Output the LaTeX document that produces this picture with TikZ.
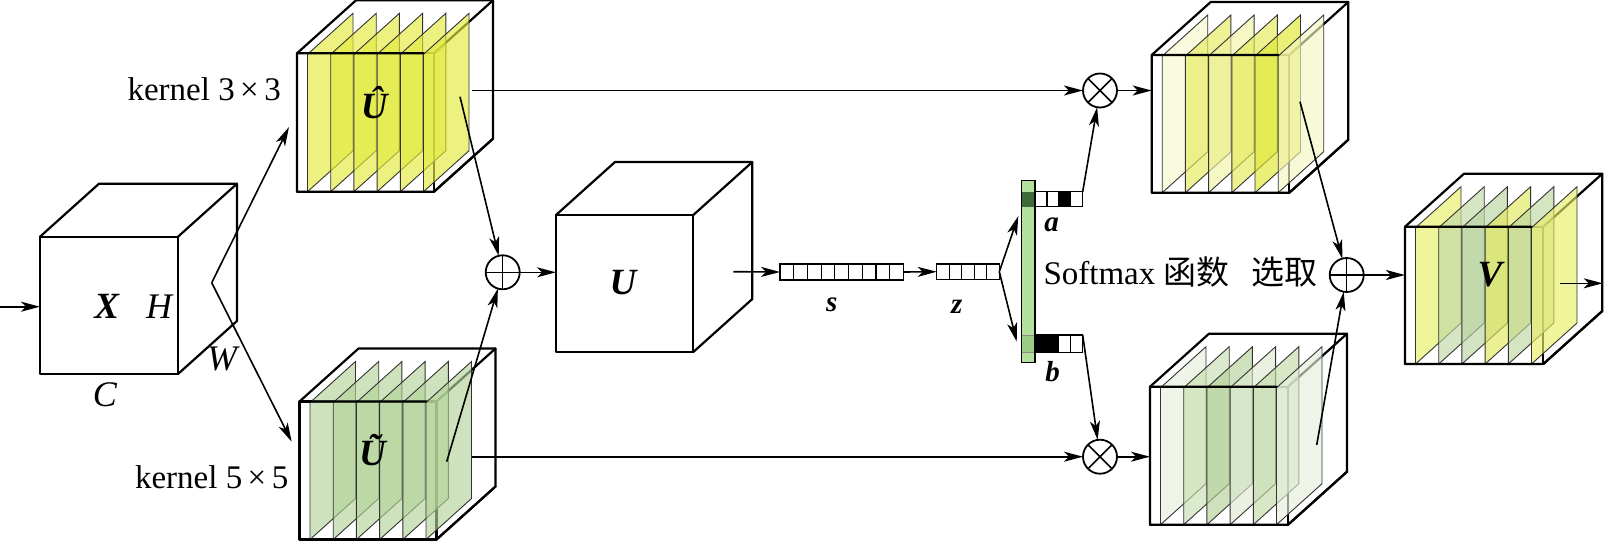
\documentclass[tikz,border=0pt]{standalone}
\usepackage{fontspec}
\setmainfont{Liberation Serif}
\newfontfamily\cjk{Noto Sans CJK SC}
\usetikzlibrary{arrows.meta,calc}

\definecolor{yl}{HTML}{E3EA3C}
\definecolor{gr}{HTML}{B2D399}
\definecolor{yA}{HTML}{F7F8CC}
\definecolor{yB}{HTML}{E6EB5A}
\definecolor{yC}{HTML}{F0F2A4}
\definecolor{yD}{HTML}{E5EA55}
\definecolor{yE}{HTML}{DFE630}
\definecolor{yF}{HTML}{F4F6C0}
\definecolor{gA}{HTML}{E5EEDA}
\definecolor{gB}{HTML}{C8DEB0}
\definecolor{gC}{HTML}{B3D198}
\definecolor{gD}{HTML}{DFEAD0}
\definecolor{gE}{HTML}{C3DBA9}
\definecolor{gF}{HTML}{E5EEDA}
\definecolor{vA}{HTML}{E8EE66}
\definecolor{vB}{HTML}{C0D8A5}
\definecolor{vC}{HTML}{B8D49E}
\definecolor{vD}{HTML}{E0E85A}
\definecolor{vE}{HTML}{BED6A0}
\definecolor{vF}{HTML}{E8EE66}
\definecolor{smg}{HTML}{B3E09C}
\definecolor{smdark}{HTML}{3D6B3A}
\definecolor{smmid}{HTML}{9CCB86}

\newcommand\skbox[4]{%
  \draw[edge] (#1,#2) rectangle ++(#3,#4);
  \draw[edge] (#1,#2) -- ++(59,-53) -- ++(#3,0) -- ++(0,#4) -- ++(-59,53);
  \draw[edge] ({#1+#3},#2) -- ++(59,-53);
}
\newcommand\skslabs[4]{%
  \foreach \c [count=\i from 0] in {#4} {%
    \filldraw[sl,fill=\c] ({#1+10.5+23.2*\i},{#2+1}) -- ++(45.5,-41) -- ++(0,{#3-1}) -- ++(-45.5,41) -- cycle;
  }%
}
\newcommand\skfront[4]{%
  \draw[edge] ({#1+126.5},#2) -- (#1,#2) -- ++(0,#4) -- ++(#3,0) -- ++(59,-53);
}

\begin{document}
\begin{tikzpicture}[x=1pt,y=-1pt,
  edge/.style={line width=2.2pt,line join=round,line cap=round},
  sl/.style={draw=black!80,line width=0.9pt,fill opacity=0.65},
  arr/.style={line width=1.6pt,-{Stealth[length=19pt,width=10pt,inset=5pt]}},
  op/.style={circle,draw,line width=1.8pt,minimum size=34pt,inner sep=0pt,outer sep=0pt,fill=white},
  vec/.style={draw,line width=1.5pt,inner sep=0pt,outer sep=0pt,fill=white},
  cell/.style={line width=1.2pt},
  mb/.style={font=\fontsize{37}{40}\selectfont\bfseries\itshape,inner sep=0pt,anchor=base},
  mi/.style={font=\fontsize{36}{40}\selectfont\itshape,inner sep=0pt,anchor=base},
  vl/.style={font=\fontsize{29}{32}\selectfont\bfseries\itshape,inner sep=0pt,anchor=base},
  lbl/.style={font=\fontsize{33}{38}\selectfont,inner sep=0pt,anchor=base},
]
\useasboundingbox (0,0) rectangle (1609,542);

% ---------- X cube ----------
\skbox{40}{236.7}{138}{137.3}
\node[mb] (X) at (106.7,318.3) {X};
\node[mi] (H) at (159,318.3) {H};
\node[mi] (W) at (222,370) {W};
\node[mi] (C) at (105,406) {C};
\coordinate (src) at (0,306.7);
\coordinate (xin) at (40,306.7);
\draw[arr] (src) -- (xin);

% ---------- U hat cube ----------
\skbox{297}{53.3}{137}{138.4}
\skslabs{297}{53.3}{138.4}{yl,yl,yl,yl,yl,yl}
\skfront{297}{53.3}{137}{138.4}
\node[mb] (Uh) at (374.3,118) {Û};

% ---------- U tilde cube ----------
\skbox{299.5}{401.5}{137}{138}
\skslabs{299.5}{401.5}{138}{gr,gr,gr,gr,gr,gr}
\skfront{299.5}{401.5}{137}{138}
\node[mb] (Ut) at (372.5,465) {Ũ};

\node[lbl] (k3) at (204.2,100) {kernel 3\,×\,3};
\node[lbl] (k5) at (211.7,488.3) {kernel 5\,×\,5};

% split arrows
\coordinate (zz) at (211.7,282.7);
\coordinate (uhin) at (289,127);
\coordinate (utin) at (291.7,441.7);
\draw[arr] (zz) -- (uhin);
\draw[arr] (zz) -- (utin);

% ---------- sum 1 ----------
\node[op] (p1) at (502.7,272.3) {};
\draw[line width=1.5pt] (p1.north) -- (p1.south) (p1.west) -- (p1.east);
\coordinate (uhout) at (460,96.7);
\coordinate (utout) at (446.7,461.7);
\draw[arr] (uhout) -- (p1);
\draw[arr] (utout) -- (p1);

% ---------- U cube ----------
\skbox{556}{215}{137.3}{137}
\node[mb] (U) at (623,294) {U};
\coordinate (uin) at (556,272.3);
\draw[arr] (p1.east) -- (uin);

% ---------- s and z ----------
\node[vec,minimum width=123.3pt,minimum height=16pt] (s) at (841.7,272) {};
\foreach \k in {1,...,8}
  \draw[cell] ($(s.south west)!\k/9!(s.south east)$) -- ($(s.north west)!\k/9!(s.north east)$);
\node[vec,minimum width=62.6pt,minimum height=15.5pt] (z) at (968,271.7) {};
\foreach \k in {1,...,4}
  \draw[cell] ($(z.south west)!\k/5!(z.south east)$) -- ($(z.north west)!\k/5!(z.north east)$);
\node[vl] (sl) at (831.7,311.7) {s};
\node[vl] (zl) at (956.7,313.3) {z};
\coordinate (uout) at (733.3,271.7);
\draw[arr] (uout) -- (s.west);
\draw[arr] (s.east) -- (z.west);

% ---------- softmax bar ----------
\node[draw,line width=1.5pt,fill=smg,minimum width=13.3pt,minimum height=182pt,inner sep=0pt,outer sep=0pt] (sm) at (1028.35,271.7) {};
\fill[smdark] (1021.7,191.7) rectangle (1035,206.7);
\filldraw[fill=smmid,draw=black!45,line width=0.8pt] (1021.7,335) rectangle (1035,352.7);
\draw[line width=1.5pt] (sm.north west) rectangle (sm.south east);
\coordinate (smtop) at (1018.3,216);
\coordinate (smbot) at (1016.7,341.7);
\draw[arr] (z.east) -- (smtop);
\draw[arr] (z.east) -- (smbot);

% a and b vectors
\node[vec,minimum width=47.7pt,minimum height=15pt,anchor=north west] (va) at (1035,191.7) {};
\fill ($(va.south west)!0.5!(va.south east)$) rectangle ($(va.north west)!0.75!(va.north east)$);
\foreach \k in {1,2,3}
  \draw[cell] ($(va.south west)!\k/4!(va.south east)$) -- ($(va.north west)!\k/4!(va.north east)$);
\draw[line width=1.5pt] (va.north west) rectangle (va.south east);
\node[vec,minimum width=47.7pt,minimum height=17.7pt,anchor=north west] (vb) at (1035,335) {};
\fill (vb.south west) rectangle ($(vb.north west)!0.5!(vb.north east)$);
\foreach \k in {1,2,3}
  \draw[cell] ($(vb.south west)!\k/4!(vb.south east)$) -- ($(vb.north west)!\k/4!(vb.north east)$);
\draw[line width=1.5pt] (vb.north west) rectangle (vb.south east);
\node[vl] (al) at (1051.7,231.7) {a};
\node[vl] (bl) at (1052.5,381.7) {b};

\node[lbl,anchor=base west] (smt) at (1043.3,284) {Softmax {\cjk 函数}};
\node[lbl] (xq) at (1284,284) {\cjk 选取};

% ---------- multiply nodes ----------
\node[op] (m1) at (1100,90.5) {};
\draw[line width=1.5pt] (m1.north east) -- (m1.south west) (m1.north west) -- (m1.south east);
\node[op] (m2) at (1100,456.7) {};
\draw[line width=1.5pt] (m2.north east) -- (m2.south west) (m2.north west) -- (m2.south east);
\coordinate (uhr) at (471.7,90.5);
\coordinate (utr) at (471.7,456.7);
\draw[arr] (uhr) -- (m1.west);
\draw[arr] (utr) -- (m2.west);
\draw[arr] (va.north east) -- (m1);
\draw[arr] (vb.north east) -- (m2);

% ---------- right top cube ----------
\skbox{1151.7}{55}{137.6}{137.7}
\skslabs{1151.7}{55}{137.7}{yA,yB,yC,yD,yE,yF}
\skfront{1151.7}{55}{137.6}{137.7}
\coordinate (rtin) at (1151.7,90.5);
\draw[arr] (m1.east) -- (rtin);

% ---------- right bottom cube ----------
\skbox{1150}{386.7}{138}{138}
\skslabs{1150}{386.7}{138}{gA,gB,gC,gD,gE,gF}
\skfront{1150}{386.7}{138}{138}
\coordinate (rbin) at (1150,456.7);
\draw[arr] (m2.east) -- (rbin);

% ---------- sum 2 ----------
\node[op] (p2) at (1346.7,275) {};
\draw[line width=1.5pt] (p2.north) -- (p2.south) (p2.west) -- (p2.east);
\coordinate (rtout) at (1300,101.7);
\coordinate (rbout) at (1316.7,445);
\draw[arr] (rtout) -- (p2);
\draw[arr] (rbout) -- (p2);

% ---------- V cube ----------
\skbox{1405}{226.7}{138.3}{137.3}
\skslabs{1405}{226.7}{137.3}{vA,vB,vC,vD,vE,vF}
\skfront{1405}{226.7}{138.3}{137.3}
\node[mb] (V) at (1490,286.7) {V};
\coordinate (vin) at (1405,275);
\draw[arr] (p2.east) -- (vin);
\coordinate (vo1) at (1560,283.3);
\coordinate (vo2) at (1602.7,283.3);
\draw[arr] (vo1) -- (vo2);
\end{tikzpicture}
\end{document}
